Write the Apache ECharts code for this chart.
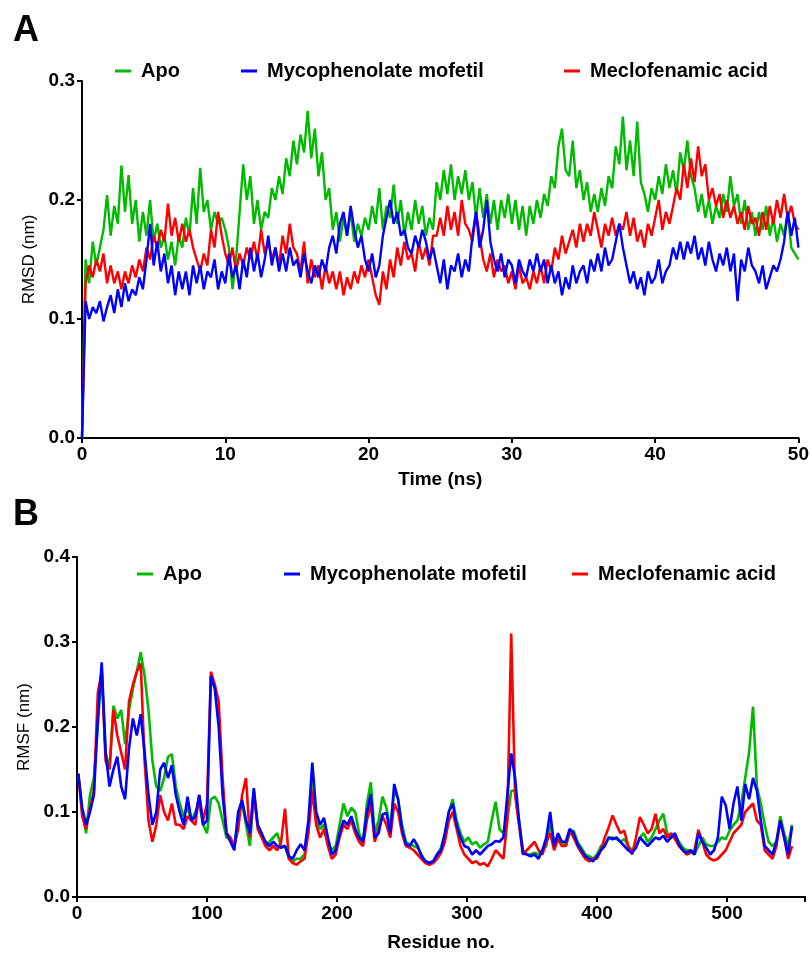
<!DOCTYPE html>
<html><head><meta charset="utf-8">
<script src="https://cdn.jsdelivr.net/npm/echarts@6/dist/echarts.min.js"></script>
<style>html,body{margin:0;padding:0;background:#fff}#c{width:812px;height:955px}</style>
</head><body><div id="c"></div>
<script>
// ---------- Panel A: RMSD vs time (0.25 ns steps, 0..50 ns) ----------
const rmsdApo = [
0,.15,.13,.165, .145,.16,.175,.204, .17,.195,.18,.229, .19,.221,.18,.2, .165,.19,.17,.2,
.165,.18,.16,.17, .15,.165,.145,.17, .16,.185,.17,.21, .18,.227,.19,.2, .175,.19,.18,.185,
.175,.16,.125,.15, .19,.23,.2,.22, .18,.2,.175,.19, .185,.21,.2,.22, .205,.235,.22,.25,
.23,.255,.24,.275, .235,.26,.22,.24, .2,.21,.175,.19, .165,.185,.17,.19, .165,.18,.17,.185,
.175,.195,.18,.21, .175,.195,.185,.213, .18,.2,.17,.19, .175,.2,.18,.195, .17,.185,.175,.215,
.2,.225,.205,.23, .2,.22,.205,.225, .2,.215,.185,.21, .185,.205,.18,.2, .175,.2,.185,.205,
.18,.2,.175,.195, .17,.195,.18,.2, .185,.205,.195,.22, .21,.245,.26,.225, .22,.25,.21,.225,
.2,.215,.19,.205, .19,.21,.195,.22, .21,.245,.23,.27, .225,.25,.22,.266, .215,.205,.19,.21,
.2,.22,.205,.23, .21,.225,.205,.24, .225,.25,.22,.21, .19,.205,.185,.2, .18,.195,.185,.205,
.19,.22,.195,.205, .18,.2,.175,.19, .17,.19,.175,.195, .17,.185,.165,.18, .17,.19,.16,.155,
.15];
const rmsdMyco = [
0,.115,.1,.11, .105,.115,.098,.11, .12,.105,.125,.11, .13,.115,.125,.12, .135,.125,.15,.18,
.145,.165,.14,.155, .13,.145,.12,.14, .125,.14,.12,.145, .13,.145,.125,.14, .135,.15,.125,.14,
.13,.155,.135,.145, .125,.15,.135,.16, .14,.155,.135,.15, .17,.145,.16,.14, .155,.14,.16,.145,
.15,.135,.155,.14, .13,.145,.135,.15, .14,.16,.17,.155, .18,.19,.17,.195, .175,.16,.17,.15,
.14,.155,.135,.145, .17,.185,.2,.18, .19,.17,.175,.16, .155,.17,.16,.175, .165,.15,.16,.145,
.13,.15,.125,.145, .14,.155,.135,.15, .14,.17,.19,.16, .175,.2,.165,.15, .14,.155,.135,.15,
.145,.13,.15,.14, .135,.15,.14,.155, .14,.15,.13,.145, .13,.14,.12,.135, .125,.145,.13,.14,
.145,.13,.15,.14, .155,.14,.16,.145, .15,.165,.18,.16, .145,.13,.14,.125, .135,.12,.14,.13,
.135,.15,.13,.14, .145,.16,.15,.165, .15,.165,.155,.17, .15,.16,.145,.165, .15,.14,.155,.145,
.16,.14,.155,.115, .15,.14,.16,.145, .14,.13,.145,.125, .135,.145,.14,.15, .165,.19,.17,.185,
.16];
const rmsdMeclo = [
0,.13,.145,.135, .15,.14,.155,.13, .145,.13,.14,.125, .14,.13,.145,.135, .15,.14,.16,.15,
.17,.16,.175,.165, .197,.17,.185,.165, .18,.165,.175,.16, .15,.14,.155,.145, .175,.16,.19,.17,
.155,.145,.16,.14, .155,.145,.16,.15, .165,.15,.175,.155, .165,.15,.16,.145, .17,.155,.18,.16,
.155,.14,.165,.13, .15,.135,.145,.125, .145,.13,.14,.125, .14,.12,.135,.125, .14,.13,.145,.135,
.15,.135,.12,.112, .14,.125,.15,.135, .16,.145,.165,.15, .155,.14,.165,.15, .16,.145,.17,.17,
.185,.17,.195,.175, .19,.17,.2,.18, .175,.165,.19,.17, .15,.14,.155,.135, .15,.14,.145,.13,
.14,.125,.145,.13, .135,.125,.14,.13, .145,.13,.15,.14, .16,.15,.17,.155, .165,.175,.16,.18,
.165,.18,.17,.19, .175,.16,.18,.17, .185,.17,.18,.175, .19,.17,.185,.165, .175,.16,.18,.17,
.185,.2,.175,.19, .18,.195,.21,.2, .23,.21,.235,.215, .245,.22,.23,.2, .21,.195,.205,.185,
.2,.185,.195,.18, .19,.175,.195,.18, .185,.17,.19,.175, .195,.18,.2,.185, .205,.185,.195,.18,
.175];
const timeNs = rmsdApo.map((_, i) => i * 0.25);

// ---------- Panel B: RMSF per residue (every 3rd residue, 1..550) ----------
const rmsfApo = [
.145,.10,.075,.12,.14,.20,.27,.17,.15,.225,.21,.22,.18,.22,.245,.265,.288,.26,.22,.16,
.13,.125,.14,.165,.168,.13,.11,.095,.105,.09,.10,.11,.085,.075,.115,.118,.11,.09,.07,.068,
.06,.095,.11,.085,.06,.12,.085,.075,.06,.065,.07,.075,.06,.06,.045,.042,.045,.045,.05,.08,
.14,.09,.08,.085,.065,.055,.06,.085,.11,.095,.105,.10,.075,.065,.11,.135,.075,.09,.118,.105,
.08,.125,.115,.085,.065,.062,.06,.058,.05,.042,.04,.042,.05,.058,.075,.10,.115,.09,.075,.065,
.07,.062,.065,.058,.062,.065,.09,.112,.08,.075,.09,.125,.125,.09,.055,.05,.05,.052,.05,.055,
.06,.085,.065,.07,.065,.06,.075,.078,.065,.058,.05,.048,.045,.05,.06,.062,.07,.07,.068,.065,
.068,.06,.055,.06,.07,.075,.065,.07,.08,.09,.098,.075,.07,.072,.065,.058,.055,.055,.05,.06,
.07,.062,.06,.06,.065,.07,.068,.078,.085,.09,.11,.14,.17,.224,.13,.11,.085,.065,.06,.065,
.095,.075,.06,.085];
const rmsfMyco = [
.145,.105,.085,.10,.12,.21,.276,.17,.13,.15,.165,.13,.115,.175,.21,.19,.215,.17,.12,.085,
.10,.15,.158,.14,.155,.12,.10,.085,.118,.09,.095,.12,.085,.09,.26,.245,.20,.12,.075,.065,
.055,.10,.114,.09,.075,.128,.085,.075,.065,.06,.065,.06,.058,.06,.048,.045,.055,.062,.055,.09,
.158,.10,.085,.093,.07,.05,.055,.075,.09,.085,.095,.08,.07,.065,.10,.121,.07,.075,.097,.099,
.075,.133,.115,.08,.062,.06,.068,.06,.048,.042,.04,.042,.05,.055,.075,.10,.11,.085,.07,.06,
.058,.05,.055,.05,.055,.06,.062,.066,.065,.07,.12,.169,.14,.09,.052,.05,.048,.05,.045,.055,
.07,.10,.06,.075,.065,.065,.08,.075,.062,.055,.048,.045,.042,.048,.055,.06,.07,.068,.07,.065,
.06,.055,.052,.058,.07,.065,.06,.065,.07,.068,.072,.065,.07,.075,.062,.055,.052,.055,.05,.075,
.065,.058,.05,.055,.07,.118,.108,.08,.11,.13,.09,.133,.115,.14,.125,.09,.06,.055,.05,.065,
.09,.07,.05,.083];
const rmsfMeclo = [
.145,.095,.08,.105,.125,.24,.265,.16,.15,.22,.19,.17,.15,.23,.25,.265,.275,.16,.09,.065,
.085,.12,.10,.09,.11,.085,.085,.08,.095,.09,.085,.12,.09,.11,.265,.25,.23,.14,.075,.07,
.06,.08,.12,.14,.07,.125,.08,.07,.06,.055,.06,.055,.065,.104,.045,.04,.038,.042,.045,.075,
.125,.085,.07,.08,.06,.045,.05,.07,.085,.08,.09,.075,.065,.06,.09,.11,.065,.08,.095,.085,
.07,.11,.10,.075,.06,.058,.055,.05,.045,.04,.038,.04,.045,.052,.065,.09,.10,.08,.06,.05,
.045,.04,.042,.038,.04,.036,.045,.055,.05,.045,.09,.31,.12,.085,.05,.055,.06,.065,.055,.05,
.065,.075,.055,.068,.06,.06,.078,.07,.06,.052,.045,.042,.045,.045,.055,.07,.082,.096,.085,.075,
.078,.06,.05,.07,.094,.085,.075,.08,.098,.075,.08,.07,.075,.068,.06,.055,.05,.052,.055,.079,
.065,.05,.045,.043,.045,.05,.055,.065,.075,.08,.085,.10,.105,.11,.09,.085,.055,.05,.045,.06,
.09,.07,.045,.06];
const residues = rmsfApo.map((_, i) => 1 + 3 * i);

// ---------- labels ----------
const seriesNames = ['Apo', 'Mycophenolate mofetil', 'Meclofenamic acid'];
const colors = ['#00bb00', '#0000ff', '#ff0000'];
const rmsdTicks = { min: 0, max: 0.3, step: 0.1 };
const rmsfTicks = { min: 0, max: 0.4, step: 0.1 };

const FONT = 'Liberation Sans, Arial, sans-serif';
const pair = (xs, ys) => ys.map((v, i) => [xs[i], v]);

function axisCommon() {
  return {
    axisLine: { show: true, lineStyle: { color: '#000', width: 2 } },
    axisTick: { show: true, inside: false, length: 5, lineStyle: { color: '#000', width: 2 } },
    splitLine: { show: false },
    axisLabel: { color: '#000', fontFamily: FONT, fontWeight: 'bold', fontSize: 19 }
  };
}

function legendAt(name, left, top, color) {
  return {
    data: [name], left: left, top: top, orient: 'horizontal',
    icon: 'rect', itemWidth: 16, itemHeight: 3, selectedMode: false,
    itemStyle: { color: color },
    textStyle: { color: '#000', fontFamily: FONT, fontWeight: 'bold', fontSize: 20, padding: [0, 0, 0, 5] }
  };
}

const chart = echarts.init(document.getElementById('c'), null, { renderer: 'canvas' });
const xA = axisCommon(), yA = axisCommon(), xB = axisCommon(), yB = axisCommon();

const option = {
  animation: false,
  backgroundColor: '#fff',
  graphic: [
    { type: 'text', left: 13, top: 13, style: { text: 'A', font: 'bold 36px ' + FONT, fill: '#000' } },
    { type: 'text', left: 13, top: 497, style: { text: 'B', font: 'bold 36px ' + FONT, fill: '#000' } }
  ],
  legend: [
    legendAt(seriesNames[0], 110, 56, colors[0]),
    legendAt(seriesNames[1], 236, 56, colors[1]),
    legendAt(seriesNames[2], 559, 56, colors[2]),
    legendAt(seriesNames[0], 132, 559, colors[0]),
    legendAt(seriesNames[1], 279, 559, colors[1]),
    legendAt(seriesNames[2], 567, 559, colors[2])
  ],
  grid: [
    { left: 82, right: 11, top: 81, height: 357, containLabel: false },
    { left: 77, right: 7, top: 557, height: 340, containLabel: false }
  ],
  xAxis: [
    Object.assign(xA, {
      type: 'value', gridIndex: 0, min: 0, max: 50, interval: 10,
      name: 'Time (ns)', nameLocation: 'middle', nameGap: 32,
      nameTextStyle: { color: '#000', fontFamily: FONT, fontWeight: 'bold', fontSize: 19 },
      axisLabel: Object.assign(xA.axisLabel, { margin: 7 })
    }),
    Object.assign(xB, {
      type: 'value', gridIndex: 1, min: 0, max: 560, interval: 100,
      name: 'Residue no.', nameLocation: 'middle', nameGap: 36,
      nameTextStyle: { color: '#000', fontFamily: FONT, fontWeight: 'bold', fontSize: 19 },
      axisLabel: Object.assign(xB.axisLabel, { margin: 7, formatter: v => (v % 100 === 0 ? String(v) : '') })
    })
  ],
  yAxis: [
    Object.assign(yA, {
      type: 'value', gridIndex: 0, min: rmsdTicks.min, max: rmsdTicks.max, interval: rmsdTicks.step,
      name: 'RMSD (nm)', nameLocation: 'middle', nameGap: 44, nameRotate: 90,
      nameTextStyle: { color: '#000', fontFamily: FONT, fontSize: 17 },
      axisLabel: Object.assign(yA.axisLabel, { margin: 7, formatter: v => v.toFixed(1) })
    }),
    Object.assign(yB, {
      type: 'value', gridIndex: 1, min: rmsfTicks.min, max: rmsfTicks.max, interval: rmsfTicks.step,
      name: 'RMSF (nm)', nameLocation: 'middle', nameGap: 40, nameRotate: 90,
      nameTextStyle: { color: '#000', fontFamily: FONT, fontSize: 17 },
      axisLabel: Object.assign(yB.axisLabel, { margin: 7, formatter: v => v.toFixed(1) })
    })
  ],
  series: [
    { name: seriesNames[0], type: 'line', xAxisIndex: 0, yAxisIndex: 0, data: pair(timeNs, rmsdApo), symbol: 'none', lineStyle: { color: colors[0], width: 2.4 }, itemStyle: { color: colors[0] }, z: 2 },
    { name: seriesNames[2], type: 'line', xAxisIndex: 0, yAxisIndex: 0, data: pair(timeNs, rmsdMeclo), symbol: 'none', lineStyle: { color: colors[2], width: 2.4 }, itemStyle: { color: colors[2] }, z: 3 },
    { name: seriesNames[1], type: 'line', xAxisIndex: 0, yAxisIndex: 0, data: pair(timeNs, rmsdMyco), symbol: 'none', lineStyle: { color: colors[1], width: 2.4 }, itemStyle: { color: colors[1] }, z: 4 },
    { name: seriesNames[0], type: 'line', xAxisIndex: 1, yAxisIndex: 1, data: pair(residues, rmsfApo), symbol: 'none', lineStyle: { color: colors[0], width: 2.6 }, itemStyle: { color: colors[0] }, z: 2 },
    { name: seriesNames[2], type: 'line', xAxisIndex: 1, yAxisIndex: 1, data: pair(residues, rmsfMeclo), symbol: 'none', lineStyle: { color: colors[2], width: 2.6 }, itemStyle: { color: colors[2] }, z: 3 },
    { name: seriesNames[1], type: 'line', xAxisIndex: 1, yAxisIndex: 1, data: pair(residues, rmsfMyco), symbol: 'none', lineStyle: { color: colors[1], width: 2.6 }, itemStyle: { color: colors[1] }, z: 4 }
  ]
};
chart.setOption(option);
</script></body></html>
